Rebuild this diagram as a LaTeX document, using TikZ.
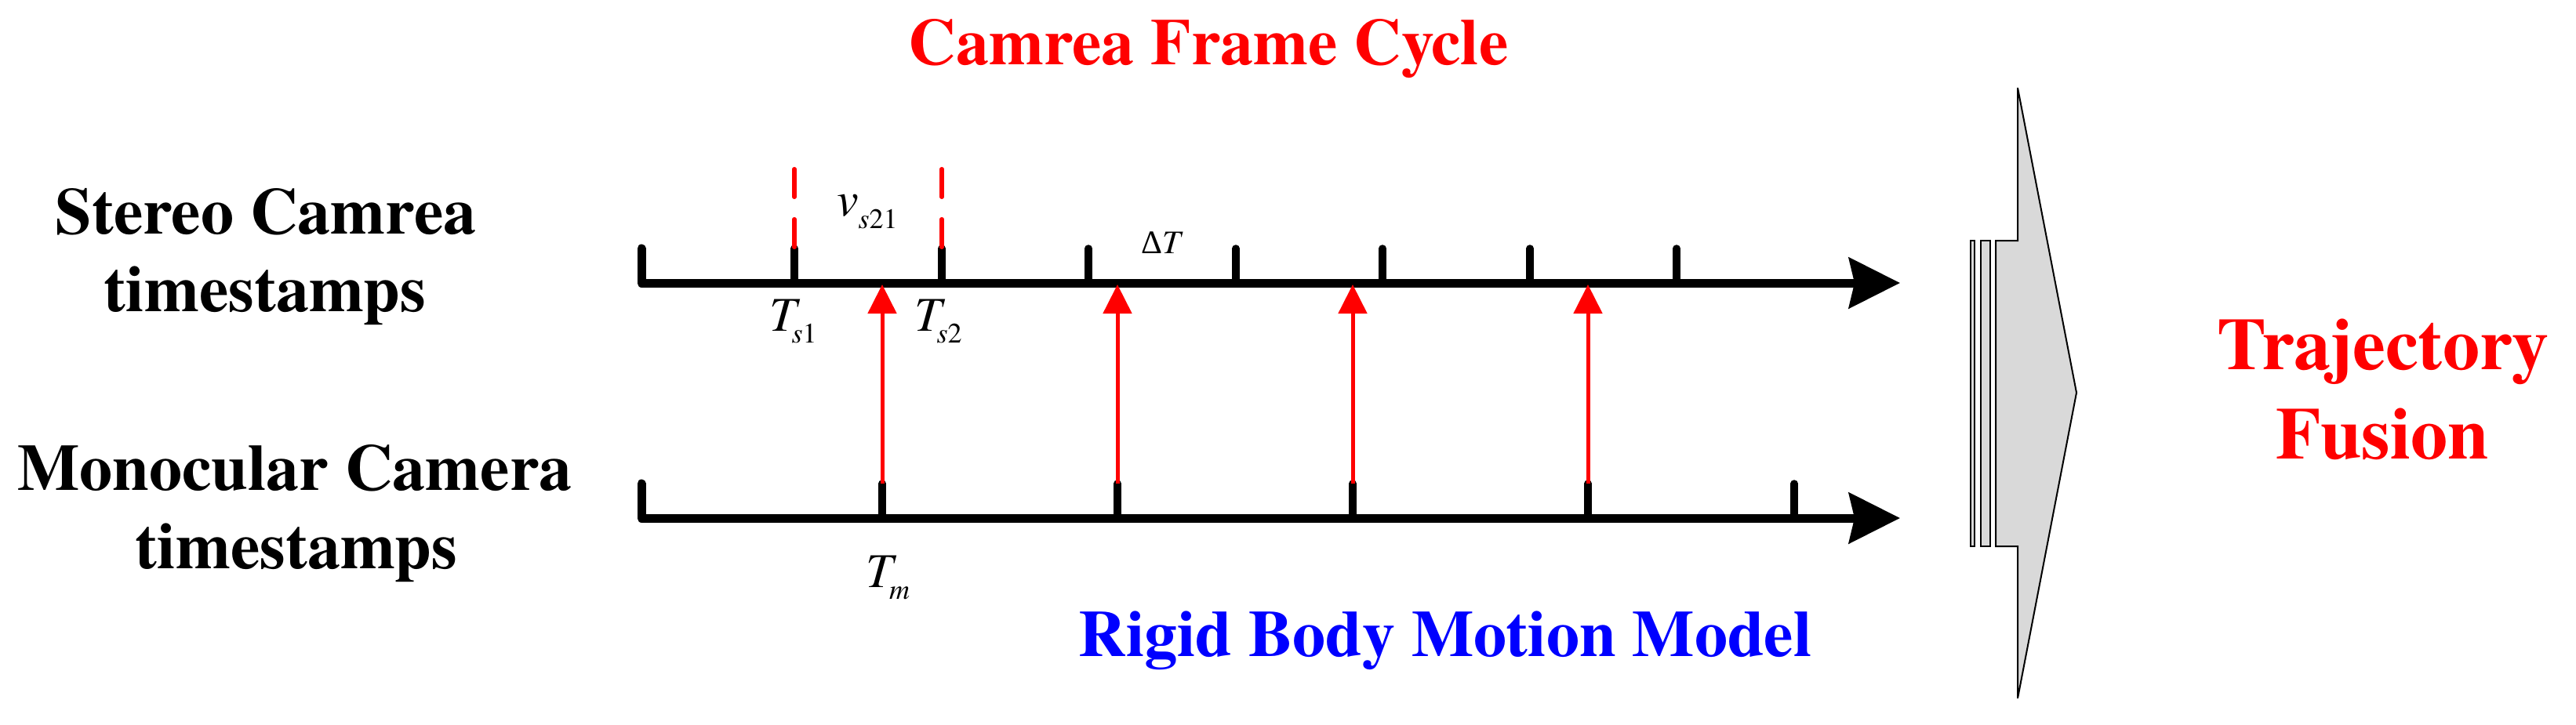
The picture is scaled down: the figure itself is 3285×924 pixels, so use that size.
\documentclass[tikz,border=0pt]{standalone}
\usepackage{fontspec}
\setmainfont{texgyretermes}[Extension=.otf, UprightFont=*-regular, BoldFont=*-bold, ItalicFont=*-italic, BoldItalicFont=*-bolditalic]
\newfontfamily\deltafont{Liberation Serif}
\usetikzlibrary{arrows.meta}
\definecolor{fusiongray}{RGB}{217,217,217}
\definecolor{pured}{RGB}{255,0,0}
\definecolor{pureblue}{RGB}{0,0,255}
\newcommand{\bigT}{{\fontsize{62}{62}\selectfont\itshape T}}
\newcommand{\lowsub}[1]{\raisebox{-15pt}{\fontsize{36}{36}\selectfont #1}}
\begin{document}
\begin{tikzpicture}[x=1pt,y=-1pt,
  lbl/.style={font=\fontsize{84}{100}\selectfont\bfseries, anchor=base, inner sep=0pt},
  biglbl/.style={font=\fontsize{94}{110}\selectfont\bfseries, anchor=base, inner sep=0pt, text=pured},
  mathlbl/.style={anchor=base west, inner sep=0pt},
  axisline/.style={line width=11pt, line cap=round, line join=round, -{Stealth[length=65pt,width=64pt,inset=7pt]}},
  tickline/.style={line width=9.5pt, line cap=round},
  syncarrow/.style={draw=pured, line width=5pt, -{Triangle[length=37pt,width=36pt]}},
  guide/.style={draw=pured, line width=5.4pt, line cap=round, dash pattern=on 35.6pt off 28.4pt},
  fusionshape/.style={draw=black, line width=2pt, fill=fusiongray, line join=miter}
]
\useasboundingbox (0,0) rectangle (3285,924);

% texts
\node[lbl, text=pured] (title) at (1541,82) {Camrea Frame Cycle};
\node[lbl] (stereoA) at (339,298) {Stereo Camrea};
\node[lbl] (stereoB) at (338,397) {timestamps};
\node[lbl] (monoA) at (376,625) {Monocular Camera};
\node[lbl] (monoB) at (378,725) {timestamps};
\node[lbl, text=pureblue] (rigid) at (1843,837) {Rigid Body Motion Model};
\node[biglbl] (trajA) at (3039,471) {Trajectory};
\node[biglbl] (trajB) at (3038,585) {Fusion};

% axes coordinates
\coordinate (sTop) at (818,317);
\coordinate (sStart) at (818,361);
\coordinate (sEnd) at (2423,361);
\coordinate (mTop) at (818,617);
\coordinate (mStart) at (818,661);
\coordinate (mEnd) at (2423,661);

% stereo ticks
\foreach \x in {1013,1201,1388,1576,1763,1951,2138}
  \draw[tickline] (\x,317) -- (\x,361);
% mono ticks
\foreach \x in {1125,1425,1725,2025,2288}
  \draw[tickline] (\x,617) -- (\x,661);

\draw[axisline] (sTop) -- (sStart) -- (sEnd);
\draw[axisline] (mTop) -- (mStart) -- (mEnd);

% dashed guides
\coordinate (g1a) at (1013,215.7); \coordinate (g1b) at (1013,315.3);
\coordinate (g2a) at (1201,215.7); \coordinate (g2b) at (1201,315.3);
\draw[guide] (g1a) -- (g1b);
\draw[guide] (g2a) -- (g2b);

% sync arrows
\foreach \i/\x in {1/1125,2/1425,3/1725,4/2025}{
  \coordinate (m\i) at (\x,617);
  \coordinate (s\i) at (\x,363);
  \draw[syncarrow] (m\i) -- (s\i);
}

% math labels
\node[mathlbl] (ts1) at (981,422) {\bigT\kern-6pt\lowsub{\itshape s\/\upshape 1}};
\node[mathlbl] (ts2) at (1166,422) {\bigT\kern-6pt\lowsub{\itshape s\/\upshape 2}};
\node[mathlbl] (vs21) at (1067,275) {{\fontsize{62}{62}\selectfont\itshape v}\raisebox{-16pt}{\fontsize{36}{36}\selectfont\itshape s\/\upshape 21}};
\node[mathlbl] (dT) at (1455,323) {\fontsize{42}{42}\selectfont{\deltafont Δ}\itshape T};
\node[mathlbl] (tm) at (1104,749) {\bigT\kern-4.5pt\lowsub{\itshape m}};

% fusion arrow
\draw[fusionshape] (2545,307) -- (2573,307) -- (2573,112) -- (2648,501) -- (2573,891) -- (2573,697) -- (2545,697) -- cycle;
\draw[fusionshape] (2513.3,307) rectangle (2518.3,697);
\draw[fusionshape] (2526,307) rectangle (2538,697);
\end{tikzpicture}
\end{document}
